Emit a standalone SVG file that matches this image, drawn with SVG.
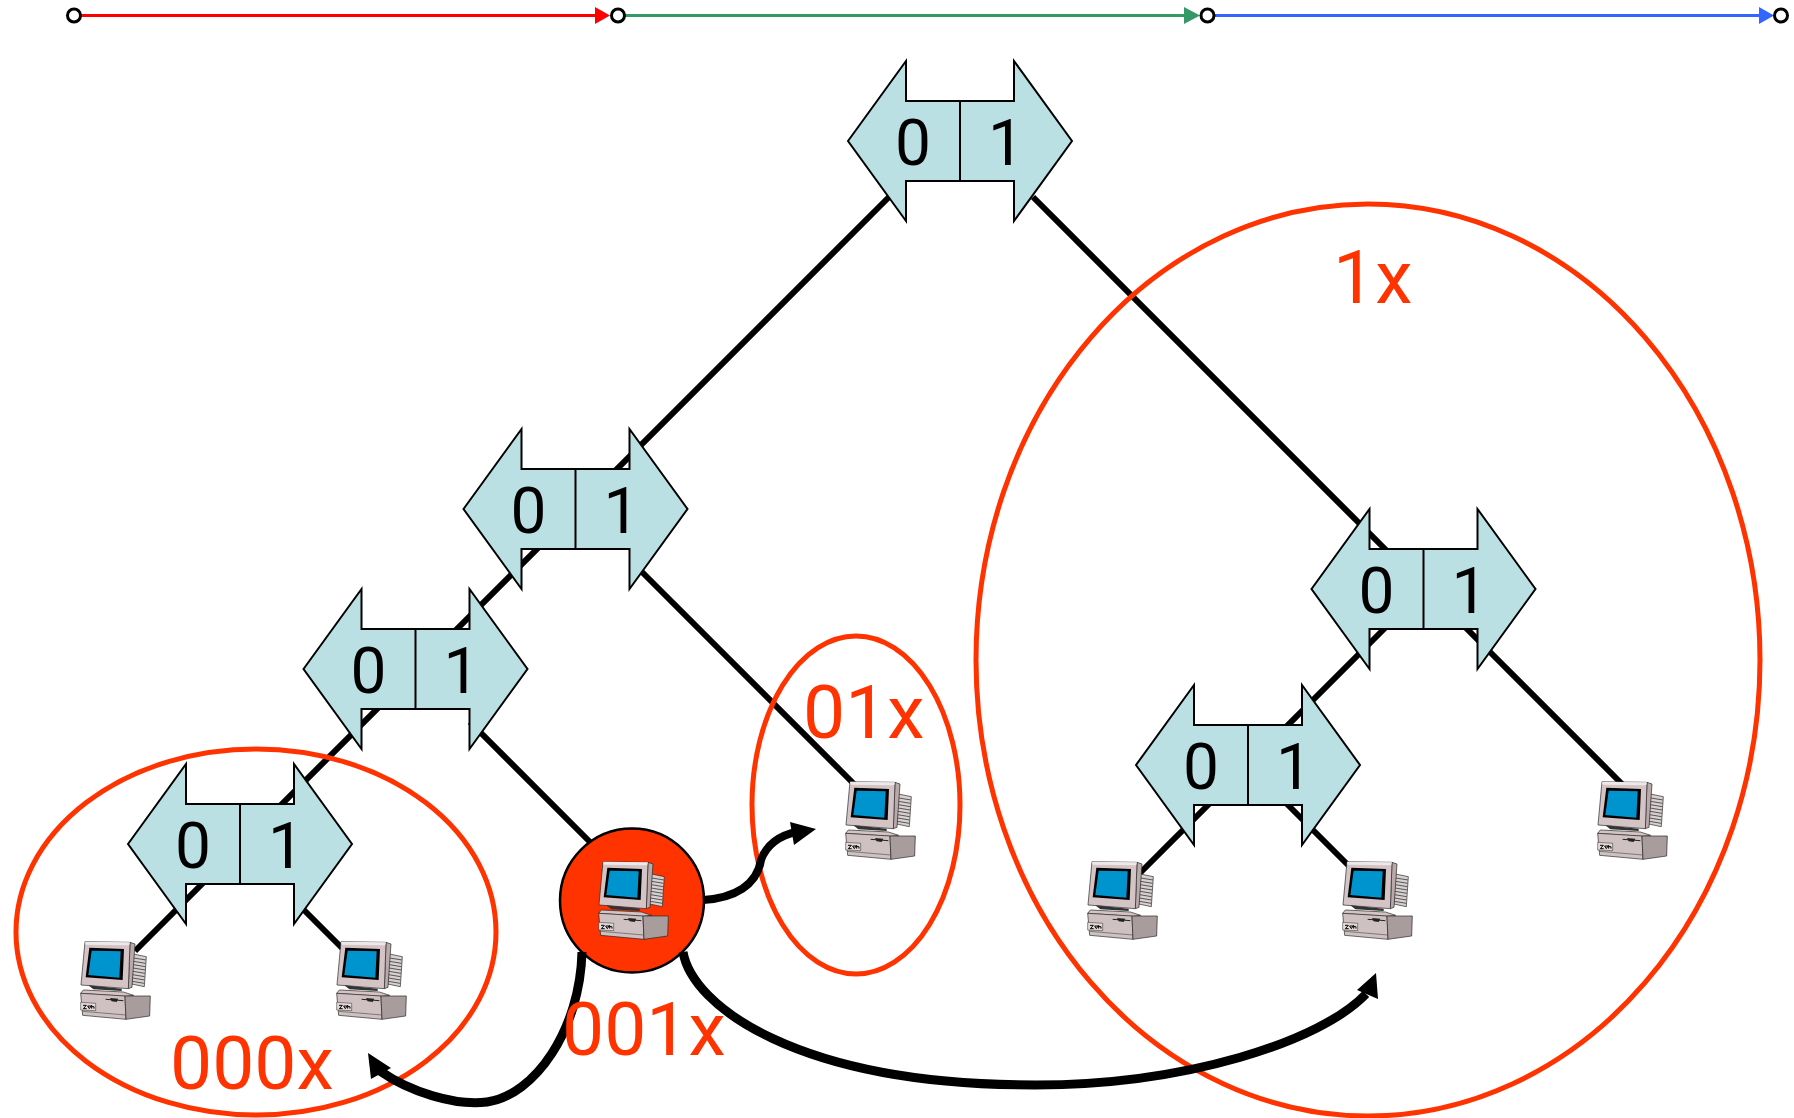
<svg xmlns="http://www.w3.org/2000/svg" width="1794" height="1118" viewBox="0 0 1794 1118">
<style>
text{font-family:Roboto,"Liberation Sans",Arial,sans-serif}
.bit{font-size:64px;fill:#000}
.lab{font-size:75px;fill:#FF3300}
.link{stroke:#000;stroke-width:6;fill:none}
.ring{fill:none;stroke:#FF3300;stroke-width:5}
.dot{fill:#fff;stroke:#000;stroke-width:3}
.arc{fill:none;stroke:#000}
.sw{fill:#BBE0E3;stroke:#000;stroke-width:2}
</style>
<defs>
<g id="sw">
<path class="sw" d="M-112,0L-54,-80V-40H54V-80L112,0L54,80V40H-54V80Z"/>
<path d="M0,-40V40" stroke="#000" stroke-width="2"/>
<text class="bit" x="-47" y="24" text-anchor="middle">0</text>
<text class="bit" x="46" y="24" text-anchor="middle">1</text>
</g>
<g id="pc" transform="scale(.3333) translate(-175,-183)" stroke-linejoin="round">
<path d="M335,222L374,230L368,320L330,312Z" fill="#d8d0d0" stroke="#222" stroke-width="2"/>
<path d="M336,234L373,240M335,244L372,250M335,254L371,260M334,264L371,270M334,274L370,280M333,284L369,290M332,294L369,300M332,304L368,310" stroke="#555" stroke-width="3" fill="none"/>
<path d="M325,187L340,192L331,322L320,326Z" fill="#b9a9a9" stroke="#222" stroke-width="2"/>
<path d="M190,185L325,187L320,326L178,315Z" fill="#d4c4c6" stroke="#222" stroke-width="2"/>
<path d="M190,185L325,187L322,196L192,194Z" fill="#efe8e8"/>
<path d="M203,203L307,207L303,300L192,292Z" fill="#000"/>
<path d="M210,212L297,214L293,293L200,285Z" fill="#0094CE"/>
<path d="M200,316L300,326L300,333L215,328Z" fill="#333"/>
<path d="M185,330L305,336L336,346L310,349L177,340Z" fill="#d4c4c6" stroke="#222" stroke-width="2"/>
<path d="M177,340L310,348L313,418L183,406Z" fill="#cfc0c2" stroke="#222" stroke-width="2"/>
<path d="M310,348L386,348L384,408L313,418Z" fill="#a89c9c" stroke="#222" stroke-width="2"/>
<path d="M177,367L222,370L222,392L177,390Z" fill="#e6dcdc" stroke="#222" stroke-width="1.5"/>
<path d="M184,376L194,376L185,386L195,386M198,378L203,386L208,378L198,378M210,375V386M210,380H217V386" stroke="#000" stroke-width="3" fill="none"/>
<path d="M252,358L305,362" stroke="#222" stroke-width="3"/>
<path d="M265,354L290,356L285,366L270,364Z" fill="#222"/>
<path d="M183,394L312,405" stroke="#555" stroke-width="2"/>
</g>
</defs>
<g id="connectors">
<path class="link" d="M890,196L135,951"/>
<path class="link" d="M1033,197L1395,559"/>
<path class="link" d="M1440,602L1622,784"/>
<path class="link" d="M1390,623L1140,873"/>
<path class="link" d="M1285,802L1350,867"/>
<path class="link" d="M638,568L860,790"/>
<path class="link" d="M470,722L592,844"/>
<path class="link" d="M300,906L342,948"/>
</g>
<g id="timeline">
<path d="M74,15.5H596" stroke="#FF0000" stroke-width="3"/>
<path d="M595,7L610,15.5L595,24Z" fill="#FF0000"/>
<path d="M624,15.5H1186" stroke="#339966" stroke-width="3"/>
<path d="M1184,7L1200,15.5L1184,24Z" fill="#339966"/>
<path d="M1213,15.5H1760" stroke="#3366FF" stroke-width="3"/>
<path d="M1759,7L1774,15.5L1759,24Z" fill="#3366FF"/>
<circle class="dot" cx="74" cy="15.5" r="6.5"/>
<circle class="dot" cx="618" cy="15.5" r="6.5"/>
<circle class="dot" cx="1207.5" cy="15.5" r="6.5"/>
<circle class="dot" cx="1781" cy="15.5" r="6.5"/>
</g>
<g id="n-root"><use href="#sw" x="960" y="141"/></g>
<g id="n-0"><use href="#sw" x="575.5" y="509"/></g>
<g id="n-00"><use href="#sw" x="415.5" y="669"/></g>
<g id="n-000"><use href="#sw" x="240" y="844"/></g>
<g id="n-1"><use href="#sw" x="1423.5" y="589"/></g>
<g id="n-10"><use href="#sw" x="1248" y="765"/></g>
<g id="ring-000x"><ellipse class="ring" cx="256" cy="932" rx="240" ry="183"/><text class="lab" x="170" y="1089">000x</text></g>
<g id="ring-01x"><ellipse class="ring" cx="856" cy="805" rx="104" ry="169"/><text class="lab" x="803" y="738">01x</text></g>
<g id="ring-1x"><ellipse class="ring" cx="1368" cy="660" rx="392" ry="456"/><text class="lab" x="1333" y="303">1x</text></g>
<g id="n-001"><circle cx="632" cy="900.5" r="72" fill="#FF3300" stroke="#000" stroke-width="2.5"/><use href="#pc" x="598" y="861"/></g>
<g id="pc-a"><use href="#pc" x="80" y="941"/></g>
<g id="pc-b"><use href="#pc" x="336" y="941"/></g>
<g id="pc-c"><use href="#pc" x="845" y="781"/></g>
<g id="pc-d"><use href="#pc" x="1087" y="861"/></g>
<g id="pc-e"><use href="#pc" x="1342" y="861"/></g>
<g id="pc-f"><use href="#pc" x="1597" y="781"/></g>
<g id="flows">
<path class="arc" stroke-width="8" d="M703,900C735,898 757,885 761,860C766,845 780,835 797,832"/>
<path d="M816,829L790,822L794,845Z" fill="#000"/>
<path class="arc" stroke-width="9" d="M582,952C580,1030 535,1095 487,1102C455,1106 410,1092 380,1071"/>
<path d="M368,1053L391,1068L371,1079Z" fill="#000"/>
<path class="arc" stroke-width="9" d="M683,952C692,1005 795,1085 1035,1085C1185,1085 1320,1042 1366,994"/>
<path d="M1376,973L1357,990L1378,999Z" fill="#000"/>
</g>
<text class="lab" x="562" y="1055">001x</text>
</svg>
